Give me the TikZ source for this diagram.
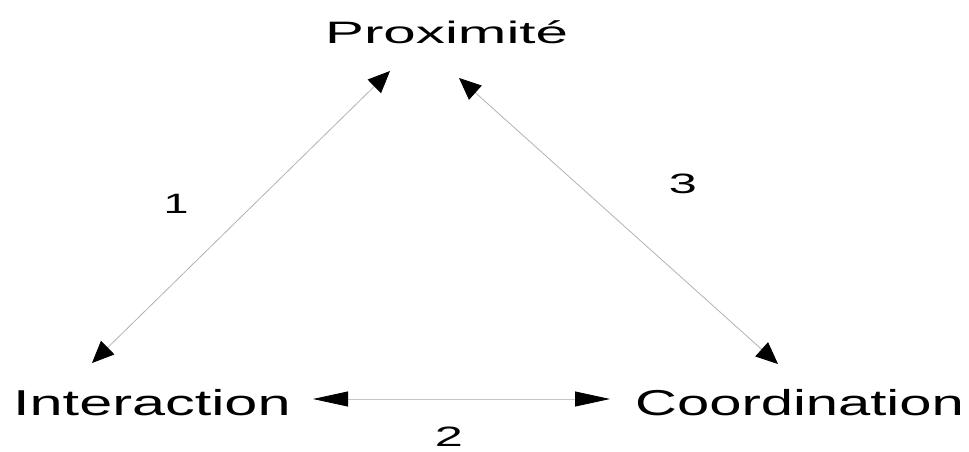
\documentclass[tikz,border=0pt]{standalone}
\usepackage{fontspec}
\setmainfont{Liberation Sans}
\usetikzlibrary{arrows.meta}

\begin{document}
\begin{tikzpicture}[x=1pt,y=-1pt,
        word/.style={inner sep=0pt, anchor=base west, font=\fontsize{36}{40}\selectfont},
        num/.style={inner sep=0pt, anchor=base, font=\fontsize{28}{30}\selectfont},
        link/.style={draw=gray!60, line width=0.8pt,
            {Triangle[color=black,length=22pt,width=19pt]}-{Triangle[color=black,length=22pt,width=19pt]}},
        flatlink/.style={draw=gray!45, line width=0.8pt,
            {Triangle[color=black,length=35pt,width=15pt]}-{Triangle[color=black,length=35pt,width=15pt]}}]
            \useasboundingbox (0,0) rectangle (969,452);

            % the three poles
            \node[word, font=\fontsize{31}{34}\selectfont] (prox) at (325,44) {\scalebox{1.88}[1]{Proximit\'e}};
            \node[word] (inter) at (13,415) {\scalebox{1.65}[1]{Interaction}};
            \node[word] (coord) at (635,415) {\scalebox{1.61}[1]{Coordination}};

            % links
            \draw[link] ([shift={(65,27)}]prox.base west) -- ([shift={(79,-52)}]inter.base west);
            \draw[link] ([shift={(134,34)}]prox.base west) -- ([shift={(143,-51)}]coord.base west);
            \draw[flatlink] ([shift={(300,-16)}]inter.base west) -- ([shift={(-25,-16)}]coord.base west);

            \node[num] (n1) at (176,213) {\scalebox{1.6}[1]{1}};
            \node[num] (n2) at (449,446) {\scalebox{1.8}[1]{2}};
            \node[num] (n3) at (683,193) {\scalebox{1.8}[1]{3}};
        \end{tikzpicture}
\end{document}
